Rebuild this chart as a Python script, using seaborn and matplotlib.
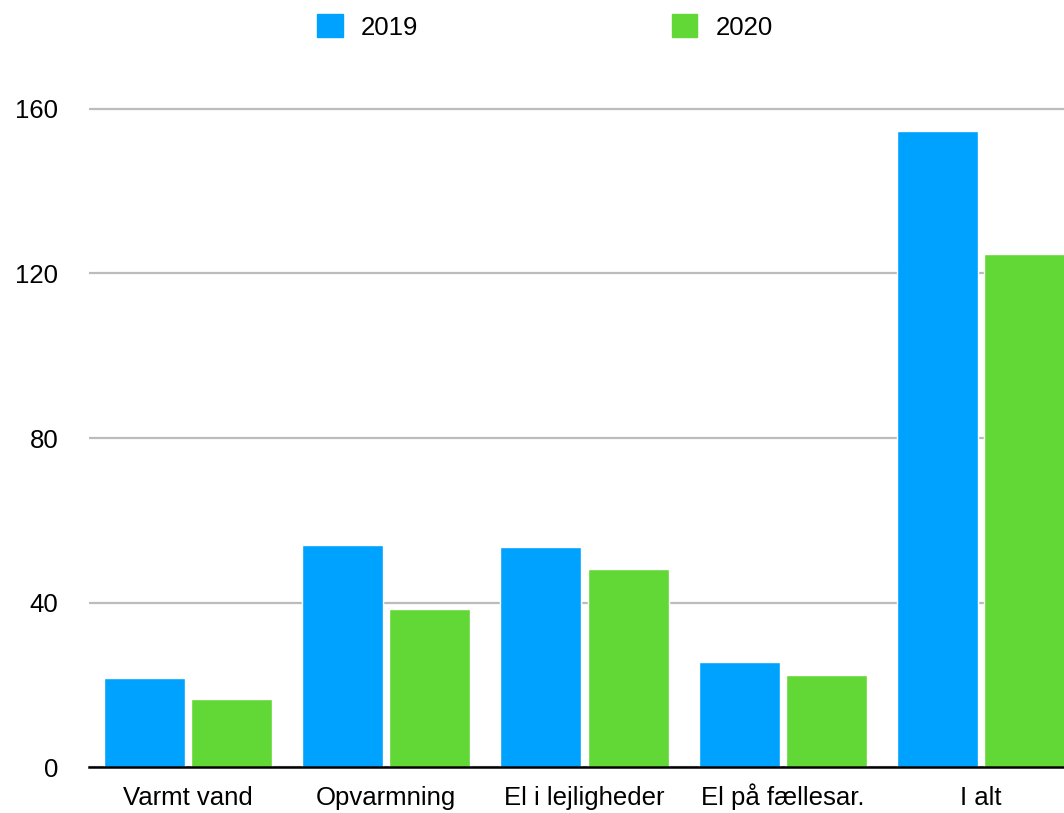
import pandas as pd
import matplotlib
matplotlib.use('Agg')
import matplotlib.pyplot as plt
import matplotlib.patches as mpatches
import seaborn as sns

categories = ['Varmt vand', 'Opvarmning', 'El i lejligheder', 'El på fællesar.', 'I alt']
years = ['2019', '2020']
values_2019 = [21.6, 54.0, 53.5, 25.5, 154.7]
values_2020 = [16.5, 38.4, 48.1, 22.4, 124.7]
yticks = [0, 40, 80, 120, 160]

colors = {'2019': '#00A2FF', '2020': '#61D836'}

df = pd.DataFrame({
    'kategori': categories * 2,
    'aar': ['2019'] * len(categories) + ['2020'] * len(categories),
    'vaerdi': values_2019 + values_2020,
})

sns.set_theme(style='white')
plt.rcParams['font.family'] = ['Liberation Sans', 'DejaVu Sans']

W, H = 1064, 813
FS = 18.5
fig = plt.figure(figsize=(W / 100, H / 100), dpi=100)
# the original is cut off at the right edge, so the axes run past the figure
ax = fig.add_axes([89 / W, 46 / H, 991 / W, (767 - 107) / H])

sns.barplot(data=df, x='kategori', y='vaerdi', hue='aar', hue_order=years,
            palette=colors, width=0.88, gap=0.07, saturation=1,
            ax=ax, legend=False, zorder=3)

ax.set_ylim(0, 160 * (767 - 107) / (767 - 109))
ax.set_xlim(-0.5, 4.5)
ax.set_yticks(yticks)
ax.set_yticklabels([str(v) for v in yticks])
ax.yaxis.grid(True, color='#bcbcbc', linewidth=1.6, zorder=0)
ax.set_axisbelow(True)
ax.set_xlabel('')
ax.set_ylabel('')
for s in ['top', 'right', 'left']:
    ax.spines[s].set_visible(False)
ax.spines['bottom'].set_color('black')
ax.spines['bottom'].set_linewidth(1.8)
ax.spines['bottom'].set_zorder(4)
ax.tick_params(axis='both', length=0, labelsize=FS, colors='black')
ax.tick_params(axis='y', pad=22)
ax.tick_params(axis='x', pad=27)
for lab in ax.get_yticklabels():
    lab.set_horizontalalignment('right')
for lab in ax.get_xticklabels():
    lab.set_verticalalignment('baseline')

handles = [mpatches.Patch(color=colors[y], label=y) for y in years]
fig.legend(handles=handles, loc='center', ncol=2,
           bbox_to_anchor=(545 / W, 1 - 27 / H), frameon=False,
           fontsize=FS, labelcolor='black', handlelength=1.0, handleheight=1.0,
           handletextpad=0.7, columnspacing=9.85)

fig.savefig('out.png', dpi=100)
